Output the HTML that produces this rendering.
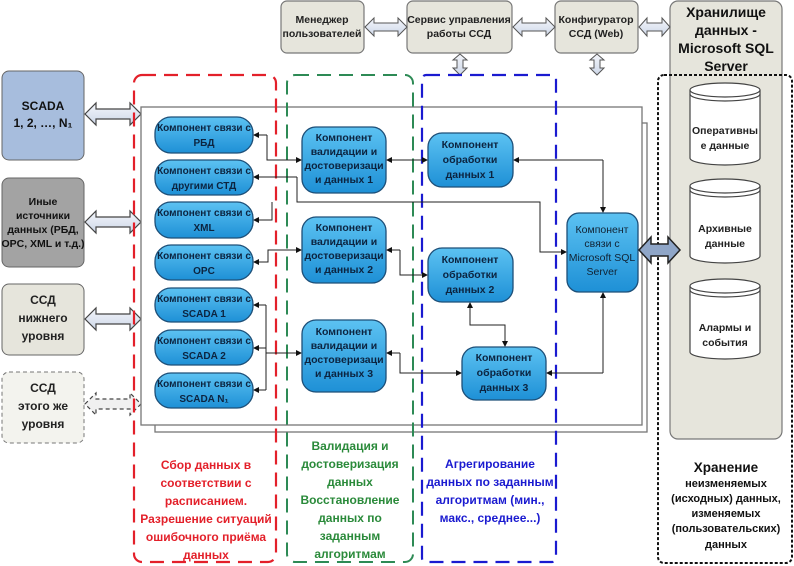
<!DOCTYPE html>
<html><head><meta charset="utf-8"><style>
html,body{margin:0;padding:0;background:#fff}
svg{display:block}
text{font-family:"Liberation Sans",sans-serif;font-weight:bold;text-anchor:middle}
</style></head><body>
<svg width="794" height="566" viewBox="0 0 794 566" xmlns="http://www.w3.org/2000/svg">
<defs>
<linearGradient id="nb" x1="0" y1="0" x2="0" y2="1"><stop offset="0" stop-color="#5cc2f2"/><stop offset="1" stop-color="#1e90d6"/></linearGradient>
<linearGradient id="ar" x1="0" y1="0" x2="0" y2="1"><stop offset="0" stop-color="#f4f6fb"/><stop offset="1" stop-color="#cdd7e8"/></linearGradient>
<marker id="m" markerWidth="6" markerHeight="6" refX="5" refY="3" orient="auto" markerUnits="userSpaceOnUse"><path d="M0,0 L6,3 L0,6z" fill="#111"/></marker>
</defs>

<g fill="#e6e5dc" stroke="#777" stroke-width="1.2">
<rect x="281" y="1" width="83" height="52" rx="6"/>
<rect x="407" y="1" width="105" height="52" rx="6"/>
<rect x="555" y="1" width="83" height="52" rx="6"/>
<rect x="670" y="1" width="112" height="438" rx="8"/>
</g>
<g font-size="10.5" fill="#222">
<text x="322" y="23">Менеджер</text><text x="322" y="37">пользователей</text>
<text x="459" y="23">Сервис управления</text><text x="459" y="37">работы ССД</text>
<text x="596" y="23">Конфигуратор</text><text x="596" y="37">ССД (Web)</text>
</g>
<g font-size="14" fill="#111">
<text x="726" y="17">Хранилище</text><text x="726" y="35">данных -</text><text x="726" y="53">Microsoft SQL</text><text x="726" y="71">Server</text>
</g>

<g fill="url(#ar)" stroke="#555" stroke-width="1">
<path d="M365,27 l9,-9 v5 h24 v-5 l9,9 l-9,9 v-5 h-24 v5z"/>
<path d="M513,27 l9,-9 v5 h24 v-5 l9,9 l-9,9 v-5 h-24 v5z"/>
<path d="M639,27 l8,-9 v5 h15 v-5 l8,9 l-8,9 v-5 h-15 v5z"/>
<path d="M460,54 l-7,6 h4 v8 h-4 l7,7 l7,-7 h-4 v-8 h4z"/>
<path d="M597,54 l-7,6 h4 v8 h-4 l7,7 l7,-7 h-4 v-8 h4z"/>
</g>

<rect x="2" y="71" width="82" height="89" rx="7" fill="#a7bddd" stroke="#666"/>
<rect x="2" y="178" width="82" height="89" rx="7" fill="#a3a3a3" stroke="#666"/>
<rect x="2" y="284" width="82" height="71" rx="7" fill="#e6e5dc" stroke="#666"/>
<rect x="2" y="372" width="82" height="71" rx="7" fill="#f3f3ee" stroke="#777" stroke-dasharray="4,3"/>
<g font-size="12" fill="#111">
<text x="43" y="110">SCADA</text><text x="43" y="127">1, 2, …, N₁</text>
</g>
<g font-size="10.5" fill="#111">
<text x="43" y="205">Иные</text><text x="43" y="219">источники</text><text x="43" y="233">данных (РБД,</text><text x="43" y="247">OPC, XML и т.д.)</text>
</g>
<g font-size="12" fill="#222">
<text x="43" y="304">ССД</text><text x="43" y="322">нижнего</text><text x="43" y="340">уровня</text>
<text x="43" y="392">ССД</text><text x="43" y="410">этого же</text><text x="43" y="428">уровня</text>
</g>
<g fill="url(#ar)" stroke="#444" stroke-width="1.2">
<path d="M85,114 l11,-11 v6 h34 v-6 l11,11 l-11,11 v-6 h-34 v6z"/>
<path d="M85,222 l11,-11 v6 h34 v-6 l11,11 l-11,11 v-6 h-34 v6z"/>
<path d="M85,319 l11,-11 v6 h34 v-6 l11,11 l-11,11 v-6 h-34 v6z"/>
<path d="M85,404 l11,-11 v6 h34 v-6 l11,11 l-11,11 v-6 h-34 v6z" stroke-dasharray="4,3" fill="#f0f0f0"/>
</g>

<rect x="155" y="123" width="492" height="309" fill="none" stroke="#777" stroke-width="1.3"/>
<rect x="141" y="107" width="501" height="318" fill="#fff" stroke="#777" stroke-width="1.3"/>

<rect x="134" y="75" width="142" height="487" rx="8" fill="none" stroke="#e3202a" stroke-width="2.2" stroke-dasharray="14,8"/>
<rect x="287" y="75" width="126" height="487" rx="8" fill="none" stroke="#2d8a55" stroke-width="2" stroke-dasharray="14,8"/>
<rect x="422" y="75" width="134" height="487" rx="4" fill="none" stroke="#1a1ad0" stroke-width="2.2" stroke-dasharray="14,8"/>
<rect x="658" y="75" width="134" height="488" rx="6" fill="none" stroke="#111" stroke-width="2" stroke-dasharray="3,2"/>

<g stroke="#222" stroke-width="1" fill="none">
<path d="M267,135 V160 H301" marker-end="url(#m)"/>
<path d="M267,135 H254" marker-end="url(#m)"/>
<path d="M297,177 V202 H540 V252 H566" marker-end="url(#m)"/>
<path d="M297,177 H254" marker-end="url(#m)"/>
<path d="M272,202 V220 H254" marker-end="url(#m)"/>
<path d="M268,262 V250 H301" marker-end="url(#m)"/>
<path d="M268,250 V262 H254" marker-end="url(#m)"/>
<path d="M400,250 V275 H427" marker-end="url(#m)"/>
<path d="M400,250 H387" marker-end="url(#m)"/>
<path d="M395,160 H427" marker-end="url(#m)"/>
<path d="M395,160 H387" marker-end="url(#m)"/>
<path d="M603,160 V212" marker-end="url(#m)"/>
<path d="M603,160 H514" marker-end="url(#m)"/>
<path d="M470,315 V325 H505 V346" marker-end="url(#m)"/>
<path d="M470,315 V303" marker-end="url(#m)"/>
<path d="M400,353 V373 H461" marker-end="url(#m)"/>
<path d="M400,353 H387" marker-end="url(#m)"/>
<path d="M603,373 V293" marker-end="url(#m)"/>
<path d="M603,373 H547" marker-end="url(#m)"/>
<path d="M266,305 V390"/>
<path d="M266,353 H301" marker-end="url(#m)"/>
<path d="M266,305 H254" marker-end="url(#m)"/>
<path d="M266,348 H254" marker-end="url(#m)"/>
<path d="M266,390 H254" marker-end="url(#m)"/>
</g>

<g fill="url(#nb)" stroke="#1d4f78" stroke-width="1.3">
<rect x="155" y="117" width="98" height="36" rx="16"/>
<rect x="155" y="160" width="98" height="35" rx="16"/>
<rect x="155" y="202" width="98" height="36" rx="16"/>
<rect x="155" y="245" width="98" height="35" rx="16"/>
<rect x="155" y="288" width="98" height="34" rx="16"/>
<rect x="155" y="330" width="98" height="35" rx="16"/>
<rect x="155" y="373" width="98" height="35" rx="16"/>
<rect x="302" y="127" width="84" height="66" rx="14"/>
<rect x="302" y="217" width="84" height="66" rx="14"/>
<rect x="302" y="320" width="84" height="72" rx="14"/>
<rect x="428" y="133" width="85" height="54" rx="14"/>
<rect x="428" y="248" width="85" height="54" rx="14"/>
<rect x="462" y="347" width="84" height="53" rx="14"/>
<rect x="567" y="213" width="71" height="79" rx="12"/>
</g>
<g font-size="10" fill="#0c2440">
<text x="204" y="131">Компонент связи с</text><text x="204" y="146">РБД</text>
<text x="204" y="174">Компонент связи с</text><text x="204" y="189">другими СТД</text>
<text x="204" y="216">Компонент связи с</text><text x="204" y="231">XML</text>
<text x="204" y="259">Компонент связи с</text><text x="204" y="274">OPC</text>
<text x="204" y="302">Компонент связи с</text><text x="204" y="317">SCADA 1</text>
<text x="204" y="344">Компонент связи с</text><text x="204" y="359">SCADA 2</text>
<text x="204" y="387">Компонент связи с</text><text x="204" y="402">SCADA N₁</text>
</g>
<g font-size="10.5" fill="#0c2440">
<text x="344" y="141">Компонент</text><text x="344" y="155">валидации и</text><text x="344" y="169">достоверизаци</text><text x="344" y="183">и данных 1</text>
<text x="344" y="231">Компонент</text><text x="344" y="245">валидации и</text><text x="344" y="259">достоверизаци</text><text x="344" y="273">и данных 2</text>
<text x="344" y="335">Компонент</text><text x="344" y="349">валидации и</text><text x="344" y="363">достоверизаци</text><text x="344" y="377">и данных 3</text>
<text x="470" y="148">Компонент</text><text x="470" y="163">обработки</text><text x="470" y="178">данных 1</text>
<text x="470" y="263">Компонент</text><text x="470" y="278">обработки</text><text x="470" y="293">данных 2</text>
<text x="504" y="361">Компонент</text><text x="504" y="376">обработки</text><text x="504" y="391">данных 3</text>
</g>
<g font-size="10.5" fill="#123">
<text x="602" y="233" style="font-weight:normal">Компонент</text><text x="602" y="247" style="font-weight:normal">связи с</text><text x="602" y="261" style="font-weight:normal">Microsoft SQL</text><text x="602" y="275" style="font-weight:normal">Server</text>
</g>

<path d="M639,250 l12,-13 v7 h17 v-7 l12,13 l-12,13 v-7 h-17 v7z" fill="#8fa6c8" stroke="#222" stroke-width="1.5"/>

<g fill="#fff" stroke="#444" stroke-width="1.2">
<path d="M690,90 v68 a35,7 0 0 0 70,0 v-68"/><ellipse cx="725" cy="90" rx="35" ry="7"/><path d="M690,94 a35,7 0 0 0 70,0" fill="none"/>
<path d="M690,186 v70 a35,7 0 0 0 70,0 v-70"/><ellipse cx="725" cy="186" rx="35" ry="7"/><path d="M690,190 a35,7 0 0 0 70,0" fill="none"/>
<path d="M690,286 v66 a35,7 0 0 0 70,0 v-66"/><ellipse cx="725" cy="286" rx="35" ry="7"/><path d="M690,290 a35,7 0 0 0 70,0" fill="none"/>
</g>
<g font-size="10.5" fill="#222">
<text x="725" y="134">Оперативны</text><text x="725" y="149">е данные</text>
<text x="725" y="232">Архивные</text><text x="725" y="247">данные</text>
<text x="725" y="331">Алармы и</text><text x="725" y="346">события</text>
</g>
<g font-size="11" fill="#111">
<text x="726" y="472" font-size="13.5">Хранение</text><text x="726" y="487">неизменяемых</text><text x="726" y="502">(исходных) данных,</text><text x="726" y="517">изменяемых</text><text x="726" y="532">(пользовательских)</text><text x="726" y="548">данных</text>
</g>

<g font-size="12" fill="#e3202a">
<text x="206" y="469">Сбор данных в</text><text x="206" y="487">соответствии с</text><text x="206" y="505">расписанием.</text><text x="206" y="523">Разрешение ситуаций</text><text x="206" y="541">ошибочного приёма</text><text x="206" y="559">данных</text>
</g>
<g font-size="12" fill="#2a8a3a">
<text x="350" y="450">Валидация и</text><text x="350" y="468">достоверизация</text><text x="350" y="486">данных</text><text x="350" y="504">Восстановление</text><text x="350" y="522">данных по</text><text x="350" y="540">заданным</text><text x="350" y="558">алгоритмам</text>
</g>
<g font-size="12" fill="#1a1ad0">
<text x="490" y="468">Агрегирование</text><text x="490" y="486">данных по заданным</text><text x="490" y="504">алгоритмам (мин.,</text><text x="490" y="522">макс., среднее...)</text>
</g>
</svg>
</body></html>
